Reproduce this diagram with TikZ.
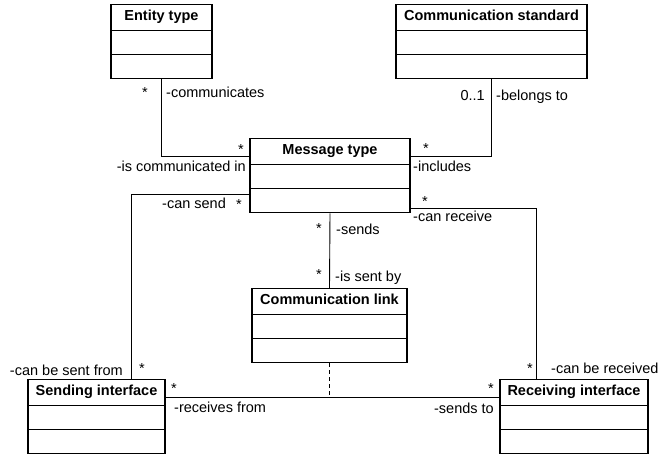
\documentclass[tikz,border=0pt]{standalone}
\usepackage{fontspec}
\setmainfont{Liberation Sans}
\usetikzlibrary{shapes.multipart}
\tikzset{
  umlclass/.style={rectangle split, rectangle split parts=3, draw, line width=1.1pt,
    anchor=north, minimum width=#1, inner xsep=2pt, inner ysep=4.3pt,
    rectangle split empty part height=14.4pt, rectangle split empty part depth=0pt,
    font=\fontsize{14.5}{16.4}\selectfont\bfseries, execute at begin node=\strut},
  assoc/.style={line width=0.9pt},
  lbl/.style={inner sep=0pt, font=\fontsize{14.5}{17.4}\selectfont}
}
\begin{document}
\begin{tikzpicture}[x=1pt,y=-1pt]
      \useasboundingbox (0,0) rectangle (661,455);
      \node[umlclass=101pt] (ent) at (161.5,4) {Entity type};
      \node[umlclass=191pt] (std) at (491.5,4) {Communication standard};
      \node[umlclass=160pt] (msg) at (330,138) {Message type};
      \node[umlclass=155pt] (lnk) at (329.5,288) {Communication link};
      \node[umlclass=137pt] (snd) at (96.5,379) {Sending interface};
      \node[umlclass=148pt] (rcv) at (574,379) {Receiving interface};

      \draw[assoc] (ent.south) |- ([yshift=-18pt]msg.north west);
      \draw[assoc] (std.south) |- ([yshift=-18pt]msg.north east);
      \draw[assoc] ([yshift=-56pt]msg.north west) -| ([xshift=34.5pt]snd.north);
      \draw[assoc] ([yshift=-70pt]msg.north east) -| ([xshift=-38pt]rcv.north);
      \draw[assoc] (msg.south) -- (lnk.north);
      \draw[assoc] ([yshift=-18pt]snd.north east) coordinate (sa) -- ([yshift=-18pt]rcv.north west);
      \draw[assoc, dash pattern=on 4pt off 3pt] (lnk.south) -- (lnk.south |- sa);

      \node[lbl, anchor=base] (m1) at (145,97) {*};
      \node[lbl, anchor=base west] (r1) at (166,97) {-communicates};
      \node[lbl, anchor=base] (m2) at (241,154) {*};
      \node[lbl, anchor=base east] (r2) at (246,171.5) {-is communicated in};
      \node[lbl, anchor=base east] (m3) at (485,100) {0..1};
      \node[lbl, anchor=base west] (r3) at (496,100) {-belongs to};
      \node[lbl, anchor=base] (m4) at (426,153) {*};
      \node[lbl, anchor=base west] (r4) at (413,171.5) {-includes};
      \node[lbl, anchor=base west] (r5) at (162,208) {-can send};
      \node[lbl, anchor=base] (m5) at (239,209) {*};
      \node[lbl, anchor=base] (m6) at (425,206) {*};
      \node[lbl, anchor=base west] (r6) at (413,221.5) {-can receive};
      \node[lbl, anchor=base] (m7) at (319,233) {*};
      \node[lbl, anchor=base west] (r7) at (336,234.5) {-sends};
      \node[lbl, anchor=base] (m8) at (319,279) {*};
      \node[lbl, anchor=base west] (r8) at (335,281.5) {-is sent by};
      \node[lbl, anchor=base east] (r9) at (123,375) {-can be sent from};
      \node[lbl, anchor=base] (m9) at (142,373) {*};
      \node[lbl, anchor=base] (m10) at (174,393) {*};
      \node[lbl, anchor=base west] (r10) at (174,412.5) {-receives from};
      \node[lbl, anchor=base] (m11) at (530,373) {*};
      \node[lbl, anchor=base west] (r11) at (551,373) {-can be received};
      \node[lbl, anchor=base] (m12) at (491,393) {*};
      \node[lbl, anchor=base east] (r12) at (494,413) {-sends to};
\end{tikzpicture}
\end{document}
